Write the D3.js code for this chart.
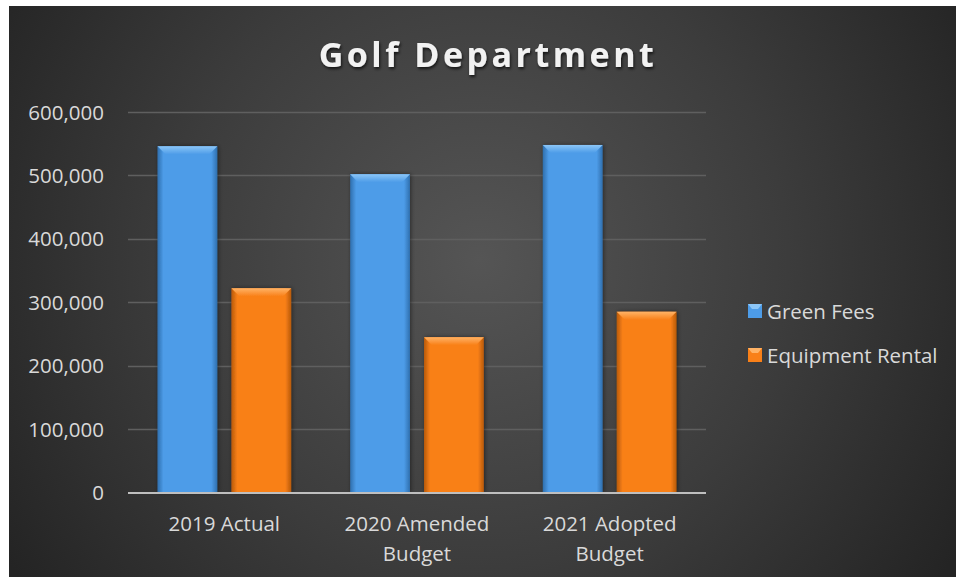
<!DOCTYPE html>
<html>
<head>
<meta charset="utf-8">
<script src="https://cdnjs.cloudflare.com/ajax/libs/d3/7.8.5/d3.min.js"></script>
<style>
  html, body { margin: 0; padding: 0; background: #fff; }
  svg { display: block; }
</style>
</head>
<body>
<div class="container"></div>
<script>
const categories = [["2019 Actual"], ["2020 Amended", "Budget"], ["2021 Adopted", "Budget"]];
const seriesNames = ["Green Fees", "Equipment Rental"];
const greenFees = [546000, 502000, 548000];
const equipmentRental = [322000, 245000, 285000];
const yTicks = [0, 100000, 200000, 300000, 400000, 500000, 600000];

const width = 956;
const height = 577;
const margin = { left: 128, right: 250, top: 112, bottom: 84 };
const fontSize = 20.5;

const colors = {
  "Green Fees": { base: "#4d9ce8", light: "#8cc6f7", dark: "#2f6fae" },
  "Equipment Rental": { base: "#f98018", light: "#ffb366", dark: "#b85a0a" }
};

const svg = d3
  .select(".container")
  .append("svg")
  .attr("width", width)
  .attr("height", height)
  .attr("font-family", "'Open Sans', sans-serif");

const defs = svg.append("defs");

// background radial glow
const bg = defs
  .append("radialGradient")
  .attr("id", "bg")
  .attr("gradientUnits", "userSpaceOnUse")
  .attr("cx", 480)
  .attr("cy", 260)
  .attr("r", 560);
bg.append("stop").attr("offset", "0%").attr("stop-color", "#555555");
bg.append("stop").attr("offset", "55%").attr("stop-color", "#3c3c3c");
bg.append("stop").attr("offset", "100%").attr("stop-color", "#242424");

// side shading for bars
seriesNames.forEach((s, i) => {
  const g = defs
    .append("linearGradient")
    .attr("id", "side" + i)
    .attr("x1", 0)
    .attr("x2", 1);
  g.append("stop").attr("offset", "0%").attr("stop-color", colors[s].dark);
  g.append("stop").attr("offset", "10%").attr("stop-color", colors[s].base);
  g.append("stop").attr("offset", "90%").attr("stop-color", colors[s].base);
  g.append("stop").attr("offset", "100%").attr("stop-color", colors[s].dark);
  const t = defs
    .append("linearGradient")
    .attr("id", "top" + i)
    .attr("x1", 0)
    .attr("y1", 0)
    .attr("x2", 0)
    .attr("y2", 1);
  t.append("stop").attr("offset", "0%").attr("stop-color", colors[s].light);
  t.append("stop").attr("offset", "100%").attr("stop-color", colors[s].base);
});

const shadow = defs.append("filter").attr("id", "shadow").attr("x", "-10%").attr("y", "-10%").attr("width", "130%").attr("height", "140%");
shadow.append("feDropShadow").attr("dx", 1).attr("dy", 2).attr("stdDeviation", 1.5).attr("flood-color", "#000").attr("flood-opacity", 0.7);

const barShadow = defs.append("filter").attr("id", "barShadow").attr("x", "-20%").attr("y", "-5%").attr("width", "140%").attr("height", "110%");
barShadow.append("feDropShadow").attr("dx", 1).attr("dy", 0).attr("stdDeviation", 2).attr("flood-color", "#000").attr("flood-opacity", 0.45);

svg
  .append("rect")
  .attr("x", 9)
  .attr("y", 6)
  .attr("width", width - 9)
  .attr("height", height - 6)
  .attr("fill", "url(#bg)");

// title
svg
  .append("text")
  .attr("x", 488)
  .attr("y", 67)
  .attr("text-anchor", "middle")
  .attr("font-size", 34)
  .attr("font-weight", "bold")
  .attr("letter-spacing", 3.5)
  .attr("fill", "#f2f2f2")
  .attr("filter", "url(#shadow)")
  .text("Golf Department");

const y = d3
  .scaleLinear()
  .domain([0, 600000])
  .range([height - margin.bottom - 0.5, margin.top]);

const x0 = d3
  .scaleBand()
  .domain(d3.range(categories.length))
  .range([margin.left, width - margin.right])
  .paddingInner(0.306)
  .paddingOuter(0.153);

const x1 = d3
  .scaleBand()
  .domain(seriesNames)
  .range([0, x0.bandwidth()])
  .paddingInner(0.19);

// gridlines
svg
  .append("g")
  .selectAll("line")
  .data(yTicks.slice(1))
  .join("line")
  .attr("x1", margin.left)
  .attr("x2", width - margin.right)
  .attr("y1", d => Math.round(y(d)) + 0.5)
  .attr("y2", d => Math.round(y(d)) + 0.5)
  .attr("stroke", "#5f5f5f")
  .attr("stroke-width", 1.5);

// y labels
const fmt = d3.format(",");
svg
  .append("g")
  .selectAll("text")
  .data(yTicks)
  .join("text")
  .attr("x", 104)
  .attr("y", d => y(d) + 7.5)
  .attr("text-anchor", "end")
  .attr("font-size", fontSize)
  .attr("fill", "#d9d9d9")
  .text(d => fmt(d));

// bars
const rows = categories.map((c, i) => [
  { key: seriesNames[0], si: 0, value: greenFees[i] },
  { key: seriesNames[1], si: 1, value: equipmentRental[i] }
]);

const group = svg
  .append("g")
  .selectAll("g")
  .data(rows)
  .join("g")
  .attr("transform", (d, i) => `translate(${x0(i)},0)`);

const bar = group
  .selectAll("g")
  .data(d => d)
  .join("g")
  .attr("filter", "url(#barShadow)");

bar
  .append("rect")
  .attr("x", d => x1(d.key))
  .attr("y", d => y(d.value))
  .attr("width", x1.bandwidth())
  .attr("height", d => y(0) - y(d.value))
  .attr("fill", d => `url(#side${d.si})`);

// top bevel
const bev = 8;
bar
  .append("path")
  .attr("d", d => {
    const xl = x1(d.key),
      xr = xl + x1.bandwidth(),
      yt = y(d.value);
    return `M${xl},${yt}L${xr},${yt}L${xr - bev},${yt + bev}L${xl + bev},${yt + bev}Z`;
  })
  .attr("fill", d => `url(#top${d.si})`);

// axis line
svg
  .append("line")
  .attr("x1", margin.left)
  .attr("x2", width - margin.right)
  .attr("y1", y(0) + 0.5)
  .attr("y2", y(0) + 0.5)
  .attr("stroke", "#bfbfbf")
  .attr("stroke-width", 2);

// category labels
svg
  .append("g")
  .selectAll("text")
  .data(categories)
  .join("text")
  .attr("x", (d, i) => x0(i) + x0.bandwidth() / 2)
  .attr("y", 531)
  .attr("text-anchor", "middle")
  .attr("font-size", fontSize)
  .attr("fill", "#d9d9d9")
  .selectAll("tspan")
  .data(d => d)
  .join("tspan")
  .attr("x", function () {
    return this.parentNode.getAttribute("x");
  })
  .attr("dy", (d, i) => (i === 0 ? 0 : 30))
  .text(d => d);

// legend
const legend = svg
  .append("g")
  .selectAll("g")
  .data(seriesNames)
  .join("g")
  .attr("transform", (d, i) => `translate(748,${311 + i * 44})`);

legend
  .append("rect")
  .attr("x", 0)
  .attr("y", -7)
  .attr("width", 14)
  .attr("height", 14)
  .attr("fill", d => colors[d].base);

legend
  .append("path")
  .attr("d", "M0,-7L14,-7L10,-2L4,-2Z")
  .attr("fill", d => colors[d].light);

legend
  .append("text")
  .attr("x", 19)
  .attr("y", 7.5)
  .attr("font-size", fontSize)
  .attr("fill", "#d9d9d9")
  .text(d => d);
</script>
</body>
</html>
